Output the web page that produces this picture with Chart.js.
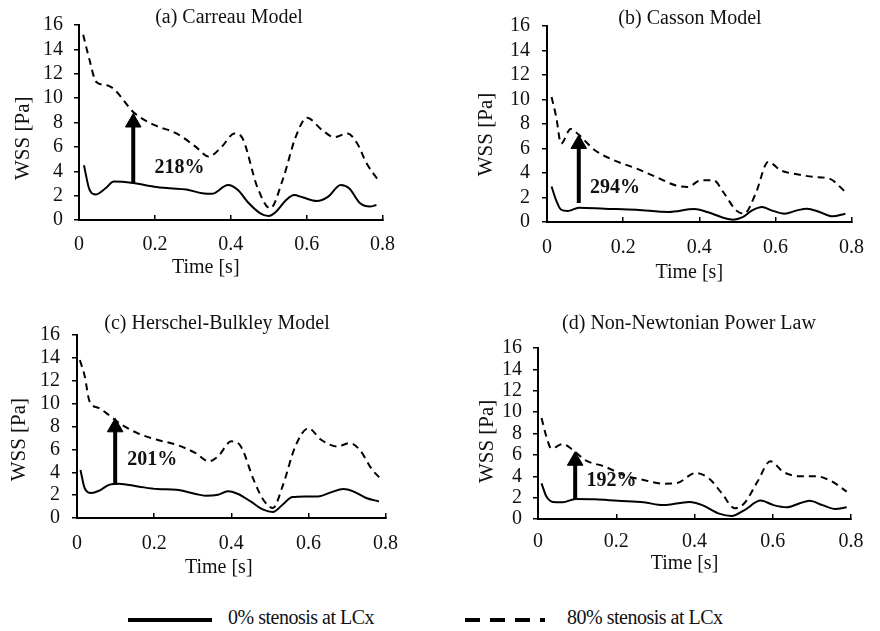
<!DOCTYPE html>
<html>
<head>
<meta charset="utf-8">
<script src="https://cdn.jsdelivr.net/npm/chart.js@4.4.1/dist/chart.umd.min.js"></script>
<style>
  html, body { margin:0; padding:0; background:#fff; width:880px; height:631px; overflow:hidden; position:relative; }
  canvas { position:absolute; }
  .lg { position:absolute; font-family:"Liberation Serif", "Times New Roman", serif; font-size:20px; line-height:24px; color:#111; letter-spacing:-0.5px; white-space:nowrap; }
  svg { position:absolute; }
</style>
</head>
<body>
<canvas id="ca"></canvas>
<canvas id="cb"></canvas>
<canvas id="cc"></canvas>
<canvas id="cd"></canvas>

<svg style="left:128px;top:616px" width="84" height="8"><line x1="0" y1="4" x2="84" y2="4" stroke="#000" stroke-width="4"/></svg>
<div class="lg" style="left:228px;top:605px">0% stenosis at LCx</div>
<svg style="left:465px;top:616px" width="80" height="8"><line x1="0" y1="4" x2="80" y2="4" stroke="#000" stroke-width="4" stroke-dasharray="15 10"/></svg>
<div class="lg" style="left:567px;top:605px">80% stenosis at LCx</div>

<script>
// ---------- Data ----------
const panelTitles = ['(a) Carreau Model', '(b) Casson Model', '(c) Herschel-Bulkley Model', '(d) Non-Newtonian Power Law'];
const seriesNames = ['0% stenosis at LCx', '80% stenosis at LCx'];
const xTickValues = [0, 0.2, 0.4, 0.6, 0.8];
const yTickValues = [0, 2, 4, 6, 8, 10, 12, 14, 16];

// (a) Carreau
const carreauT0  = [0.013,0.028,0.045,0.07,0.092,0.138,0.198,0.24,0.283,0.325,0.35,0.393,0.419,0.444,0.478,0.5,0.52,0.546,0.567,0.589,0.627,0.656,0.69,0.712,0.741,0.767,0.784];
const carreau0   = [4.5,2.46,2.1,2.6,3.15,3.06,2.73,2.6,2.5,2.2,2.15,2.87,2.46,1.5,0.55,0.33,0.7,1.64,2.05,1.86,1.56,1.9,2.87,2.6,1.37,1.1,1.23];
const carreauT80 = [0.011,0.028,0.045,0.079,0.147,0.198,0.257,0.308,0.342,0.376,0.41,0.431,0.47,0.504,0.537,0.571,0.601,0.64,0.673,0.707,0.733,0.758,0.788];
const carreau80  = [15.2,13.1,11.35,11.0,8.75,7.8,7.1,6.0,5.2,6.0,7.1,6.7,2.7,0.96,3.3,6.8,8.4,7.4,6.8,7.1,6.3,4.65,3.3];

// (b) Casson
const cassonT0  = [0.012,0.024,0.037,0.054,0.084,0.151,0.235,0.32,0.387,0.421,0.463,0.489,0.514,0.539,0.565,0.59,0.624,0.657,0.683,0.716,0.75,0.784];
const casson0   = [2.9,1.77,1.0,0.9,1.17,1.09,1.0,0.82,1.06,0.82,0.35,0.19,0.4,0.95,1.23,0.95,0.68,0.95,1.09,0.82,0.46,0.68];
const cassonT80 = [0.012,0.024,0.037,0.062,0.084,0.126,0.176,0.235,0.286,0.337,0.37,0.404,0.438,0.463,0.497,0.518,0.548,0.581,0.615,0.657,0.7,0.742,0.784];
const casson80  = [10.2,8.6,6.4,7.6,7.1,5.86,5.04,4.36,3.68,3.0,2.86,3.4,3.4,2.45,0.95,0.68,2.3,4.9,4.2,3.9,3.68,3.54,2.45];

// (c) Herschel-Bulkley
const hbT0  = [0.009,0.02,0.037,0.058,0.083,0.108,0.158,0.208,0.258,0.308,0.333,0.366,0.391,0.416,0.45,0.483,0.508,0.533,0.558,0.591,0.625,0.658,0.691,0.716,0.75,0.783];
const hb0   = [4.2,2.6,2.18,2.4,2.9,3.0,2.76,2.53,2.47,2.1,1.95,2.04,2.33,2.12,1.45,0.73,0.52,1.16,1.83,1.89,1.89,2.24,2.53,2.33,1.75,1.45];
const hbT80 = [0.0075,0.02,0.0325,0.0575,0.0826,0.116,0.158,0.208,0.258,0.308,0.341,0.366,0.4,0.425,0.458,0.483,0.508,0.533,0.566,0.6,0.633,0.675,0.708,0.733,0.766,0.79];
const hb80  = [13.8,12.4,10.2,9.6,9.0,8.15,7.4,6.84,6.4,5.67,4.95,5.4,6.7,6.25,3.35,1.6,0.87,2.76,6.25,7.85,6.84,6.25,6.55,5.96,4.2,3.35];

// (d) Non-Newtonian power law
const plT0  = [0.009,0.0216,0.038,0.063,0.096,0.146,0.204,0.27,0.32,0.387,0.42,0.461,0.495,0.528,0.569,0.602,0.636,0.669,0.694,0.727,0.76,0.789];
const pl0   = [3.34,2.1,1.6,1.56,1.87,1.84,1.7,1.56,1.3,1.6,1.3,0.53,0.28,0.84,1.72,1.3,1.1,1.47,1.7,1.3,0.94,1.1];
const plT80 = [0.009,0.0216,0.034,0.063,0.088,0.121,0.171,0.22,0.27,0.32,0.354,0.403,0.437,0.47,0.503,0.528,0.561,0.594,0.627,0.669,0.71,0.752,0.789];
const pl80  = [9.44,7.7,6.6,7.0,6.5,5.5,4.9,4.1,3.65,3.3,3.35,4.3,3.8,2.4,1.0,1.5,3.5,5.4,4.4,4.0,4.0,3.5,2.56];

// Increase annotations (arrow time, arrow base value, arrow head value, label text, label time, label value)
const arrowT     = [0.143, 0.0835, 0.099, 0.095];
const arrowBase  = [3.0, 1.55, 2.9, 1.78];
const arrowHead  = [8.0, 6.37, 7.93, 5.45];
const increaseLabels = ['218%', '294%', '201%', '192%'];
const labelT     = [0.265, 0.1785, 0.195, 0.188];
const labelV     = [4.27, 2.82, 5.07, 3.55];

const seriesT0  = [carreauT0, cassonT0, hbT0, plT0];
const seriesV0  = [carreau0, casson0, hb0, pl0];
const seriesT80 = [carreauT80, cassonT80, hbT80, plT80];
const seriesV80 = [carreau80, casson80, hb80, pl80];

// ---------- Layout of the four panels ----------
const NB = '\u00A0';
const layouts = [
  { id:'ca', left:0,   top:0,   w:413, h:280, padL:40, padR:20, tSp:5, tPadT:6,    tPadB:-5,   yW:39, yTickPad:11, yTitlePad:-29.6, ySp:6, xH:60, xTickPad:18,   xSp:10 },
  { id:'cb', left:440, top:0,   w:443, h:285, padL:67, padR:20, tSp:2, tPadT:6.5,  tPadB:-4.5, yW:40, yTickPad:12, yTitlePad:-33.6, ySp:4, xH:63, xTickPad:19,   xSp:4 },
  { id:'cc', left:0,   top:300, w:417, h:280, padL:37, padR:20, tSp:0, tPadT:12,   tPadB:-1,   yW:40, yTickPad:12, yTitlePad:-30.6, ySp:5, xH:62, xTickPad:19,   xSp:5 },
  { id:'cd', left:440, top:300, w:439, h:276, padL:59, padR:20, tSp:4, tPadT:11.5, tPadB:12.5, yW:39, yTickPad:11, yTitlePad:-24.6, ySp:3, xH:57, xTickPad:15.5, xSp:4 }
];

const FONT = '"Liberation Serif", "Times New Roman", serif';
const INK = '#111';

function pts(ts, vs) { return ts.map((t, i) => ({ x: t, y: vs[i] })); }

const labelPlugin = {
  id: 'increaseLabel',
  afterDatasetsDraw(chart, args, opts) {
    const { ctx, scales } = chart;
    ctx.save();
    ctx.font = 'bold 20px ' + FONT;
    ctx.fillStyle = INK;
    ctx.textAlign = 'center';
    ctx.textBaseline = 'middle';
    ctx.fillText(opts.text, scales.x.getPixelForValue(opts.t), scales.y.getPixelForValue(opts.v));
    ctx.restore();
  }
};

layouts.forEach((L, i) => {
  const cv = document.getElementById(L.id);
  cv.width = L.w; cv.height = L.h;
  cv.style.left = L.left + 'px'; cv.style.top = L.top + 'px';

  new Chart(cv, {
    type: 'line',
    data: {
      datasets: [
        { label: seriesNames[0], data: pts(seriesT0[i], seriesV0[i]), borderColor: '#000', borderWidth: 2,
          pointRadius: 0, cubicInterpolationMode: 'monotone', fill: false },
        { label: seriesNames[1], data: pts(seriesT80[i], seriesV80[i]), borderColor: '#000', borderWidth: 2,
          borderDash: [7, 5], pointRadius: 0, cubicInterpolationMode: 'monotone', fill: false },
        { label: 'increase', data: [{ x: arrowT[i], y: arrowBase[i] }, { x: arrowT[i], y: arrowHead[i] }],
          borderColor: '#000', borderWidth: 4, pointRadius: [0, 9], pointStyle: 'triangle',
          pointBackgroundColor: '#000', pointBorderColor: '#000', pointBorderWidth: 1, fill: false }
      ]
    },
    options: {
      responsive: false,
      animation: false,
      events: [],
      layout: { padding: { left: L.padL, right: L.padR, top: 0, bottom: 0 } },
      plugins: {
        legend: { display: false },
        tooltip: { enabled: false },
        title: { display: true, text: NB.repeat(L.tSp) + panelTitles[i], color: INK,
                 font: { family: FONT, size: 20, weight: 'normal', lineHeight: 1.2 },
                 padding: { top: L.tPadT, bottom: L.tPadB } },
        increaseLabel: { text: increaseLabels[i], t: labelT[i], v: labelV[i] }
      },
      scales: {
        x: {
          type: 'linear', position: 'bottom', min: 0, max: 0.8,
          afterBuildTicks: s => { s.ticks = xTickValues.map(v => ({ value: v })); },
          ticks: { autoSkip: false, maxRotation: 0, color: INK, padding: L.xTickPad,
                   font: { family: FONT, size: 20 },
                   callback: v => String(Math.round(v * 10) / 10) },
          grid: { display: true, drawOnChartArea: false, drawTicks: true, tickLength: -5, color: '#000', lineWidth: 1.5 },
          border: { display: true, color: '#000', width: 2 },
          title: { display: true, text: 'Time [s]' + NB.repeat(L.xSp), color: INK,
                   font: { family: FONT, size: 20 }, padding: { top: 0, bottom: 0 } },
          afterFit: s => { s.height = L.xH; }
        },
        y: {
          type: 'linear', position: 'left', min: 0, max: 16,
          afterBuildTicks: s => { s.ticks = yTickValues.map(v => ({ value: v })); },
          ticks: { autoSkip: false, color: INK, padding: L.yTickPad, font: { family: FONT, size: 20 } },
          grid: { display: true, drawOnChartArea: false, drawTicks: true, tickLength: 5, color: '#000', lineWidth: 1.5 },
          border: { display: true, color: '#000', width: 2 },
          title: { display: true, text: 'WSS [Pa]' + NB.repeat(L.ySp), color: INK,
                   font: { family: FONT, size: 21 }, padding: { top: L.yTitlePad, bottom: 0 } },
          afterFit: s => { s.width = L.yW; }
        }
      }
    },
    plugins: [labelPlugin]
  });
});
</script>
</body>
</html>
